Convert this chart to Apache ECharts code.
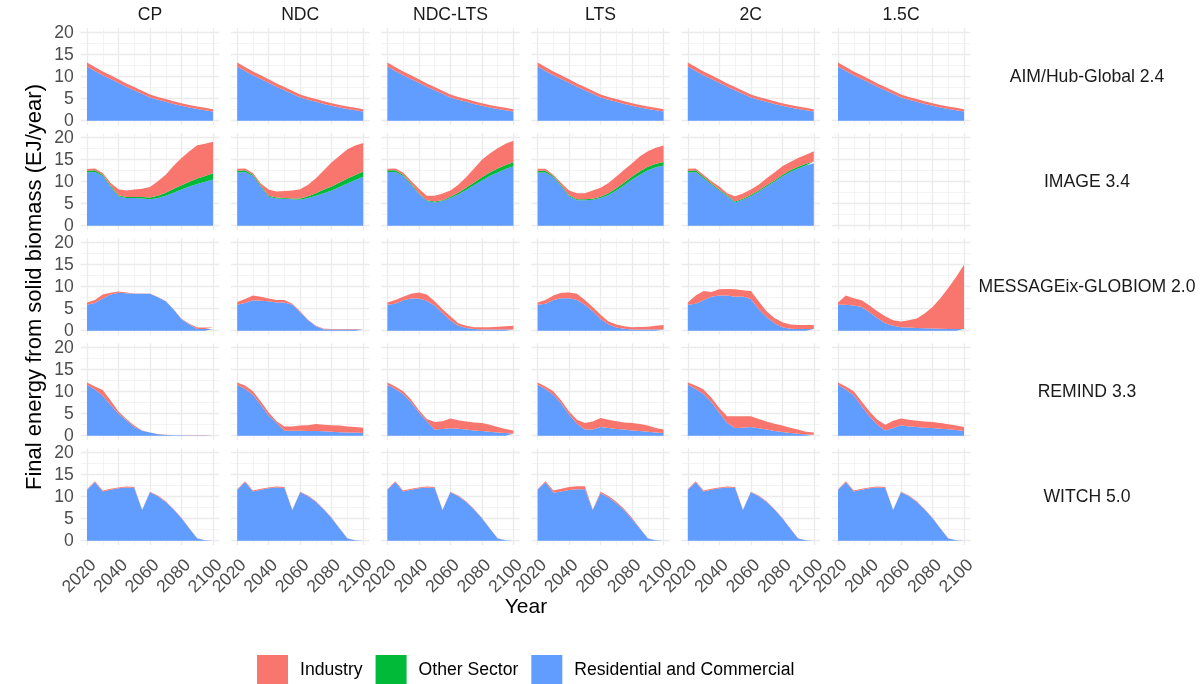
<!DOCTYPE html>
<html>
<head>
<meta charset="utf-8">
<script src="https://cdn.jsdelivr.net/npm/echarts@6/dist/echarts.min.js"></script>
<style>
  html, body { margin: 0; padding: 0; background: #ffffff; }
  #chart { width: 1201px; height: 684px; }
</style>
</head>
<body>
<div id="chart"></div>
<script>
// ---- facets and axes ----
const scenarios = ['CP', 'NDC', 'NDC-LTS', 'LTS', '2C', '1.5C'];
const models = ['AIM/Hub-Global 2.4', 'IMAGE 3.4', 'MESSAGEix-GLOBIOM 2.0', 'REMIND 3.3', 'WITCH 5.0'];
const sectors = ['Industry', 'Other Sector', 'Residential and Commercial'];
const years = [2020, 2025, 2030, 2035, 2040, 2045, 2050, 2055, 2060, 2065, 2070, 2075, 2080, 2085, 2090, 2095, 2100];
const xTicks = [2020, 2040, 2060, 2080, 2100];
const xMinorTicks = [2030, 2050, 2070, 2090];
const yTicks = [0, 5, 10, 15, 20];
const yMinorTicks = [2.5, 7.5, 12.5, 17.5];

// ---- final energy from solid biomass, EJ/year ----
const noOther = [0, 0, 0, 0, 0, 0, 0, 0, 0, 0, 0, 0, 0, 0, 0, 0, 0];

// AIM/Hub-Global 2.4 (same path in every scenario)
const aimRes = [12.3, 11.3, 10.35, 9.5, 8.6, 7.7, 6.9, 6.1, 5.3, 4.75, 4.3, 3.8, 3.4, 3.0, 2.65, 2.4, 2.1];
const aimInd = [0.9, 0.88, 0.85, 0.82, 0.8, 0.77, 0.74, 0.71, 0.68, 0.65, 0.63, 0.61, 0.59, 0.57, 0.55, 0.53, 0.52];

// IMAGE 3.4
const imageCpRes = [12.1, 12.2, 11.3, 8.8, 6.7, 6.3, 6.3, 6.2, 6.0, 6.3, 6.8, 7.5, 8.2, 8.9, 9.5, 10.0, 10.5];
const imageCpOth = [0.4, 0.4, 0.3, 0.3, 0.2, 0.2, 0.2, 0.3, 0.4, 0.5, 0.7, 0.9, 1.0, 1.1, 1.2, 1.3, 1.4];
const imageCpInd = [0.4, 0.4, 0.4, 0.6, 1.4, 1.5, 1.7, 1.9, 2.4, 3.3, 4.1, 5.2, 6.2, 6.9, 7.6, 7.3, 7.2];
const imageNdcRes = [12.1, 12.2, 11.3, 8.8, 6.6, 6.2, 6.1, 6.0, 5.9, 6.3, 6.8, 7.4, 8.0, 8.8, 9.6, 10.4, 11.1];
const imageNdcOth = [0.4, 0.4, 0.3, 0.3, 0.2, 0.2, 0.2, 0.2, 0.3, 0.4, 0.6, 0.8, 0.9, 1.0, 1.1, 1.1, 1.2];
const imageNdcInd = [0.45, 0.4, 0.4, 0.5, 1.4, 1.4, 1.6, 1.8, 2.1, 2.6, 3.4, 4.4, 5.5, 6.1, 6.7, 6.7, 6.5];
const imageNdcLtsRes = [12.2, 12.2, 11.3, 9.3, 7.2, 5.6, 5.3, 5.6, 6.3, 7.1, 8.1, 9.2, 10.3, 11.3, 12.1, 12.9, 13.5];
const imageNdcLtsOth = [0.4, 0.4, 0.3, 0.3, 0.2, 0.2, 0.2, 0.2, 0.3, 0.4, 0.5, 0.6, 0.7, 0.8, 0.9, 0.9, 0.9];
const imageNdcLtsInd = [0.35, 0.4, 0.5, 0.6, 1.0, 1.0, 1.3, 1.5, 1.4, 1.8, 2.4, 3.2, 4.0, 4.3, 4.6, 4.8, 4.9];
const imageLtsRes = [12.1, 12.1, 11.0, 8.9, 6.7, 5.8, 5.8, 5.9, 6.3, 7.0, 8.0, 9.2, 10.5, 11.6, 12.6, 13.3, 13.7];
const imageLtsOth = [0.4, 0.4, 0.3, 0.3, 0.2, 0.2, 0.2, 0.2, 0.3, 0.4, 0.5, 0.6, 0.7, 0.8, 0.8, 0.8, 0.8];
const imageLtsInd = [0.45, 0.45, 0.3, 0.5, 1.1, 1.4, 1.4, 1.9, 2.0, 2.3, 2.7, 2.9, 3.0, 3.4, 3.5, 3.6, 3.7];
const image2cRes = [12.1, 12.2, 10.8, 9.3, 8.0, 6.7, 5.3, 5.9, 6.7, 7.7, 8.9, 10.0, 11.2, 12.2, 13.0, 13.7, 14.2];
const image2cOth = [0.4, 0.4, 0.3, 0.3, 0.2, 0.2, 0.2, 0.2, 0.3, 0.3, 0.3, 0.3, 0.3, 0.4, 0.4, 0.4, 0.4];
const image2cInd = [0.45, 0.4, 0.5, 0.5, 0.7, 0.5, 1.2, 1.2, 1.2, 1.3, 1.6, 1.8, 2.0, 1.9, 2.0, 2.0, 2.3];

// MESSAGEix-GLOBIOM 2.0
const messageCpRes = [5.9, 6.3, 7.3, 8.2, 8.6, 8.5, 8.4, 8.4, 8.4, 7.6, 6.7, 4.8, 2.6, 1.4, 0.4, 0.4, 0.4];
const messageCpInd = [0.5, 0.7, 0.9, 0.4, 0.3, 0.2, 0.05, 0.05, 0.05, 0.05, 0.05, 0.05, 0.1, 0.2, 0.35, 0.35, 0.35];
const messageNdcRes = [5.9, 6.3, 6.9, 6.8, 6.7, 6.4, 6.4, 5.9, 4.2, 2.35, 1.0, 0.3, 0.25, 0.25, 0.25, 0.25, 0.25];
const messageNdcInd = [0.6, 0.9, 1.1, 0.9, 0.6, 0.6, 0.6, 0.2, 0.2, 0.15, 0.1, 0.15, 0.15, 0.15, 0.15, 0.15, 0.15];
const messageNdcLtsRes = [5.9, 6.1, 6.9, 7.3, 7.3, 6.8, 5.7, 4.0, 2.3, 1.1, 0.6, 0.4, 0.3, 0.3, 0.3, 0.3, 0.3];
const messageNdcLtsInd = [0.5, 0.9, 0.8, 1.1, 1.4, 1.4, 1.0, 0.9, 1.0, 0.6, 0.5, 0.4, 0.5, 0.5, 0.6, 0.7, 0.8];
const messageLtsRes = [5.9, 6.1, 7.0, 7.4, 7.4, 7.0, 5.9, 4.4, 2.65, 1.4, 0.75, 0.45, 0.3, 0.3, 0.3, 0.3, 0.3];
const messageLtsInd = [0.5, 0.9, 1.0, 1.2, 1.3, 1.4, 1.1, 1.0, 0.95, 0.7, 0.65, 0.55, 0.5, 0.55, 0.6, 0.8, 1.0];
const message2cRes = [5.9, 6.1, 6.9, 7.7, 8.0, 8.0, 7.7, 7.8, 7.2, 4.9, 3.1, 1.7, 0.8, 0.45, 0.4, 0.4, 0.4];
const message2cInd = [0.5, 1.9, 2.1, 1.1, 1.4, 1.5, 1.7, 1.4, 1.8, 1.8, 1.3, 1.2, 1.1, 0.95, 0.9, 0.9, 0.9];
const message15cRes = [5.9, 5.9, 5.7, 5.4, 4.2, 2.9, 1.7, 1.1, 0.8, 0.7, 0.6, 0.55, 0.5, 0.45, 0.4, 0.4, 0.4];
const message15cInd = [0.5, 2.1, 1.7, 1.5, 1.5, 1.5, 1.6, 1.25, 1.3, 1.7, 2.2, 3.35, 4.9, 6.95, 9.3, 11.8, 14.6];

// REMIND 3.3
const remindCpRes = [11.6, 10.5, 9.1, 7.0, 5.0, 3.5, 2.0, 1.1, 0.7, 0.35, 0.15, 0.1, 0.1, 0.05, 0.05, 0.05, 0.05];
const remindCpInd = [0.5, 0.7, 1.3, 1.0, 0.5, 0.3, 0.3, 0.1, 0.05, 0.05, 0.05, 0.03, 0.03, 0.03, 0.03, 0.03, 0.03];
const remindNdcRes = [11.6, 10.6, 9.3, 7.0, 4.6, 2.9, 1.1, 1.1, 1.1, 1.05, 1.05, 1.0, 0.9, 0.8, 0.75, 0.7, 0.6];
const remindNdcInd = [0.5, 0.8, 0.8, 0.8, 0.7, 0.4, 1.0, 1.0, 1.2, 1.3, 1.6, 1.5, 1.5, 1.5, 1.35, 1.3, 1.2];
const remindNdcLtsRes = [11.6, 10.6, 9.5, 7.6, 5.3, 3.3, 1.4, 1.5, 1.7, 1.6, 1.4, 1.2, 1.05, 0.9, 0.75, 0.6, 0.45];
const remindNdcLtsInd = [0.5, 0.6, 0.6, 0.6, 0.5, 0.5, 1.7, 1.8, 2.2, 1.9, 1.8, 1.8, 1.85, 1.6, 1.25, 0.9, 0.75];
const remindLtsRes = [11.6, 10.6, 9.3, 7.3, 4.8, 2.7, 1.4, 1.4, 2.0, 1.75, 1.5, 1.4, 1.2, 1.05, 0.9, 0.75, 0.6];
const remindLtsInd = [0.5, 0.6, 0.8, 0.7, 0.7, 0.9, 1.5, 1.8, 2.0, 1.85, 1.8, 1.6, 1.7, 1.6, 1.4, 1.0, 0.8];
const remind2cRes = [11.6, 10.6, 9.5, 7.6, 5.2, 2.9, 1.75, 1.8, 2.0, 1.7, 1.4, 1.05, 0.85, 0.6, 0.45, 0.3, 0.2];
const remind2cInd = [0.5, 0.8, 1.0, 1.0, 1.1, 1.5, 2.65, 2.6, 2.4, 2.1, 1.8, 1.65, 1.45, 1.2, 0.95, 0.6, 0.55];
const remind15cRes = [11.6, 10.5, 9.2, 6.7, 4.4, 2.5, 1.2, 1.75, 2.35, 2.1, 2.0, 1.8, 1.75, 1.6, 1.45, 1.3, 1.05];
const remind15cInd = [0.5, 0.7, 0.9, 1.1, 1.1, 1.1, 1.3, 1.65, 1.55, 1.5, 1.4, 1.4, 1.35, 1.3, 1.15, 1.0, 0.95];

// WITCH 5.0
const witchRes = [11.6, 13.3, 11.2, 11.6, 11.9, 12.1, 12.0, 7.0, 11.0, 10.1, 8.8, 7.1, 5.1, 2.8, 0.5, 0.1, 0.0];
const witchInd = [0.1, 0.2, 0.2, 0.2, 0.2, 0.2, 0.2, 0.05, 0.1, 0.15, 0.15, 0.1, 0.1, 0.05, 0.05, 0.0, 0.0];
const witchLtsRes = [11.6, 13.3, 10.9, 11.2, 11.5, 11.7, 11.7, 7.0, 10.8, 9.8, 8.5, 6.9, 4.9, 2.7, 0.5, 0.1, 0.0];
const witchLtsInd = [0.1, 0.2, 0.5, 0.6, 0.7, 0.7, 0.7, 0.1, 0.3, 0.35, 0.35, 0.3, 0.25, 0.15, 0.05, 0.0, 0.0];

// panel lookup: model -> scenario -> [residential, other, industry] (null = no run)
const panelData = {
  'AIM/Hub-Global 2.4': {
    'CP': [aimRes, noOther, aimInd], 'NDC': [aimRes, noOther, aimInd], 'NDC-LTS': [aimRes, noOther, aimInd],
    'LTS': [aimRes, noOther, aimInd], '2C': [aimRes, noOther, aimInd], '1.5C': [aimRes, noOther, aimInd]
  },
  'IMAGE 3.4': {
    'CP': [imageCpRes, imageCpOth, imageCpInd], 'NDC': [imageNdcRes, imageNdcOth, imageNdcInd],
    'NDC-LTS': [imageNdcLtsRes, imageNdcLtsOth, imageNdcLtsInd], 'LTS': [imageLtsRes, imageLtsOth, imageLtsInd],
    '2C': [image2cRes, image2cOth, image2cInd], '1.5C': null
  },
  'MESSAGEix-GLOBIOM 2.0': {
    'CP': [messageCpRes, noOther, messageCpInd], 'NDC': [messageNdcRes, noOther, messageNdcInd],
    'NDC-LTS': [messageNdcLtsRes, noOther, messageNdcLtsInd], 'LTS': [messageLtsRes, noOther, messageLtsInd],
    '2C': [message2cRes, noOther, message2cInd], '1.5C': [message15cRes, noOther, message15cInd]
  },
  'REMIND 3.3': {
    'CP': [remindCpRes, noOther, remindCpInd], 'NDC': [remindNdcRes, noOther, remindNdcInd],
    'NDC-LTS': [remindNdcLtsRes, noOther, remindNdcLtsInd], 'LTS': [remindLtsRes, noOther, remindLtsInd],
    '2C': [remind2cRes, noOther, remind2cInd], '1.5C': [remind15cRes, noOther, remind15cInd]
  },
  'WITCH 5.0': {
    'CP': [witchRes, noOther, witchInd], 'NDC': [witchRes, noOther, witchInd], 'NDC-LTS': [witchRes, noOther, witchInd],
    'LTS': [witchLtsRes, noOther, witchLtsInd], '2C': [witchRes, noOther, witchInd], '1.5C': [witchRes, noOther, witchInd]
  }
};

// ---- styling ----
const FONT = '"Liberation Sans", Arial, Helvetica, sans-serif';
const colors = {
  'Industry': '#F8766D',
  'Other Sector': '#00BA38',
  'Residential and Commercial': '#619CFF'
};
const PANEL_LEFT = 80.7, PANEL_STEP_X = 150.2, PANEL_W = 138.6;
const PANEL_TOP = 28.3, PANEL_STEP_Y = 105, PANEL_H = 96.8;
const GRID_MAJOR = { color: '#EBEBEB', width: 1.3 };
const GRID_MINOR = { color: '#EEEEEE', width: 0.65 };

const grids = [], xAxes = [], yAxes = [], series = [], graphics = [];

models.forEach((model, r) => {
  scenarios.forEach((scen, c) => {
    const g = r * scenarios.length + c;
    grids.push({
      left: PANEL_LEFT + PANEL_STEP_X * c,
      top: PANEL_TOP + PANEL_STEP_Y * r,
      width: PANEL_W,
      height: PANEL_H,
      containLabel: false,
      outerBoundsMode: 'none'
    });
    const isBottom = r === models.length - 1;
    const isLeft = c === 0;
    // major x axis (data axis)
    xAxes.push({
      type: 'value', gridIndex: g, min: 2016, max: 2104, position: 'bottom',
      axisLine: { show: false },
      axisTick: { show: false, customValues: xTicks },
      axisLabel: {
        show: isBottom, customValues: xTicks, rotate: 45, margin: 11,
        align: 'right', verticalAlign: 'top',
        fontSize: 17.6, color: '#4D4D4D', fontFamily: FONT,
        formatter: v => String(v)
      },
      splitLine: { show: true, lineStyle: GRID_MAJOR }
    });
    // minor x grid lines
    xAxes.push({
      type: 'value', gridIndex: g, min: 2016, max: 2104, position: 'bottom',
      axisLine: { show: false },
      axisTick: { show: false, customValues: xMinorTicks },
      axisLabel: { show: false, customValues: xMinorTicks },
      splitLine: { show: true, lineStyle: GRID_MINOR }
    });
    yAxes.push({
      type: 'value', gridIndex: g, min: -1, max: 21, position: 'left',
      axisLine: { show: false },
      axisTick: { show: false, customValues: yTicks },
      axisLabel: {
        show: isLeft, customValues: yTicks, margin: 7,
        fontSize: 17.6, color: '#4D4D4D', fontFamily: FONT
      },
      splitLine: { show: true, lineStyle: GRID_MAJOR }
    });
    yAxes.push({
      type: 'value', gridIndex: g, min: -1, max: 21, position: 'left',
      axisLine: { show: false },
      axisTick: { show: false, customValues: yMinorTicks },
      axisLabel: { show: false, customValues: yMinorTicks },
      splitLine: { show: true, lineStyle: GRID_MINOR }
    });

    const values = panelData[model][scen];
    if (values) {
      // stacked bottom to top: residential, other sector, industry.
      // Each point is [value, year]; the value column comes first so the
      // stack is accumulated on the y (energy) dimension.
      const order = ['Residential and Commercial', 'Other Sector', 'Industry'];
      order.forEach((name, k) => {
        const col = colors[name];
        series.push({
          name: name,
          type: 'line',
          xAxisIndex: 2 * g,
          yAxisIndex: 2 * g,
          stack: 'panel' + g,
          encode: { x: 1, y: 0 },
          data: years.map((yr, i) => [values[k][i], yr]),
          symbol: 'none',
          showSymbol: false,
          smooth: false,
          color: col,
          itemStyle: { color: col },
          lineStyle: { width: 0, color: col },
          areaStyle: { color: col, opacity: 1 },
          silent: true,
          z: 2
        });
      });
    }
  });
});

// facet strip labels
scenarios.forEach((scen, c) => {
  graphics.push({
    type: 'text',
    x: PANEL_LEFT + PANEL_STEP_X * c + PANEL_W / 2,
    y: 15,
    style: {
      text: scen, fill: '#1A1A1A', font: '17.6px ' + FONT,
      textAlign: 'center', textVerticalAlign: 'middle'
    }
  });
});
models.forEach((model, r) => {
  graphics.push({
    type: 'text',
    x: 1087,
    y: PANEL_TOP + PANEL_STEP_Y * r + PANEL_H / 2,
    style: {
      text: model, fill: '#1A1A1A', font: '17.6px ' + FONT,
      textAlign: 'center', textVerticalAlign: 'middle'
    }
  });
});
// axis titles
graphics.push({
  type: 'text', x: 526, y: 607,
  style: { text: 'Year', fill: '#000000', font: '21px ' + FONT, textAlign: 'center', textVerticalAlign: 'middle' }
});
graphics.push({
  type: 'text', x: 35, y: 287, rotation: Math.PI / 2,
  style: {
    text: 'Final energy from solid biomass (EJ/year)', fill: '#000000', font: '22px ' + FONT,
    textAlign: 'center', textVerticalAlign: 'middle'
  }
});

const chart = echarts.init(document.getElementById('chart'), null, { renderer: 'canvas' });
chart.setOption({
  animation: false,
  backgroundColor: '#ffffff',
  textStyle: { fontFamily: FONT },
  grid: grids,
  xAxis: xAxes,
  yAxis: yAxes,
  series: series,
  graphic: graphics,
  legend: {
    data: sectors,
    left: 252,
    top: 650,
    orient: 'horizontal',
    icon: 'rect',
    itemWidth: 31,
    itemHeight: 31,
    itemGap: 13,
    selectedMode: false,
    itemStyle: { borderWidth: 0 },
    textStyle: { fontSize: 17.6, color: '#000000', fontFamily: FONT, padding: [0, 0, 0, 7] }
  }
});
</script>
</body>
</html>
